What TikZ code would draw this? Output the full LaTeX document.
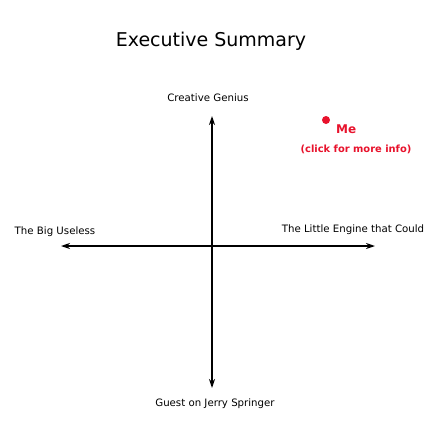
\documentclass[tikz,border=0pt]{standalone}
\usepackage{fontspec}
\setmainfont{DejaVu Sans}
\usetikzlibrary{arrows.meta}
\definecolor{mered}{RGB}{232,18,44}
\begin{document}
\begin{tikzpicture}[x=1pt,y=-1pt,
  axis/.style={line width=1.4pt,-{Stealth[length=9pt,width=6pt]}},
  lbl/.style={font=\fontsize{10.2}{12}\selectfont,inner sep=0pt},
  melbl/.style={text=mered,inner sep=0pt}]
\useasboundingbox[fill=white] (0,0) rectangle (432,432);
% title
\node[inner sep=0pt,font=\fontsize{19}{22}\selectfont] (title) at (211,41) {Executive Summary};
% axis labels
\node[lbl] (top) at (208,98) {Creative Genius};
\node[lbl] (bottom) at (215,404) {Guest on Jerry Springer};
\node[lbl] (left) at (55,232) {The Big Useless};
\node[lbl] (right) at (353,230) {The Little Engine that Could};
% axes
\coordinate (o) at (212,246);
\coordinate (n) at (212,116);
\coordinate (s) at (212,388);
\coordinate (w) at (61,246);
\coordinate (e) at (375,246);
\draw[axis] (o) -- (n);
\draw[axis] (o) -- (s);
\draw[axis] (o) -- (w);
\draw[axis] (o) -- (e);
% the marker
\fill[mered] (326,120) circle (4);
\node[melbl,font=\fontsize{12}{14}\selectfont\bfseries,anchor=west] (me) at (336,129) {Me};
\node[melbl,font=\fontsize{9.9}{12}\selectfont\bfseries] (info) at (356,149) {(click for more info)};
\end{tikzpicture}
\end{document}
